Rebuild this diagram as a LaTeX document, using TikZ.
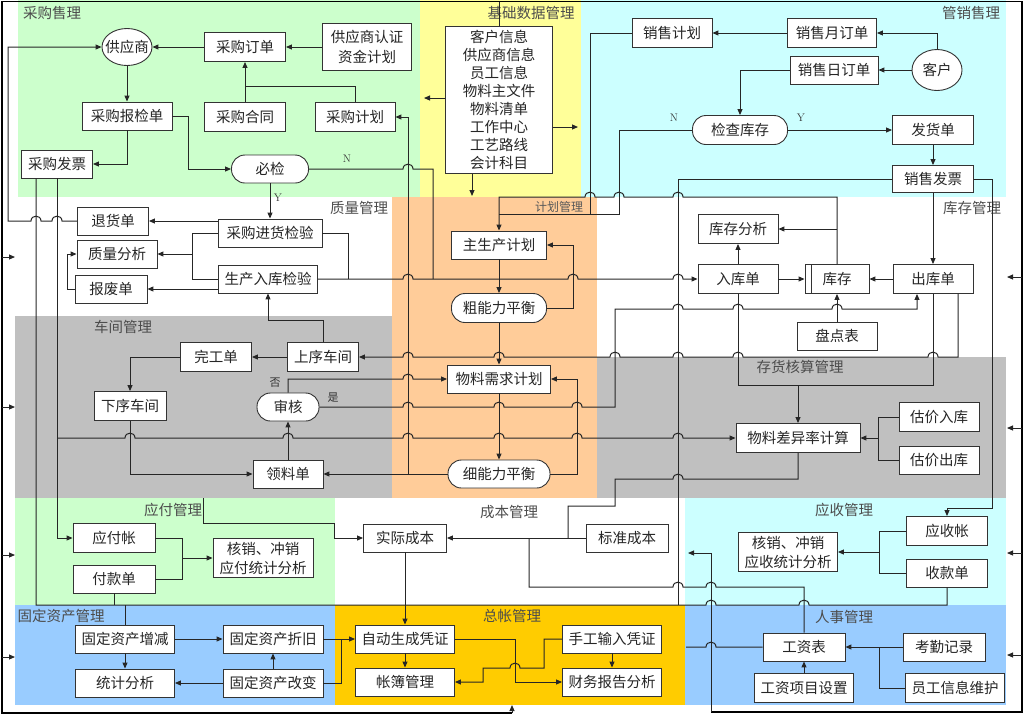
\documentclass[tikz,border=0pt]{standalone}
\usepackage{fontspec}
\newfontfamily\cjk{Noto Sans CJK SC}
\usetikzlibrary{arrows.meta,shapes.geometric}
\definecolor{cgreen}{RGB}{204,255,204}
\definecolor{cyellow}{RGB}{255,255,153}
\definecolor{ccyan}{RGB}{204,255,255}
\definecolor{corange}{RGB}{255,204,153}
\definecolor{cgray}{RGB}{192,192,192}
\definecolor{cblue}{RGB}{153,204,255}
\definecolor{cgold}{RGB}{255,204,0}
\begin{document}
\begin{tikzpicture}[x=1pt,y=-1pt,
  bx/.style={draw=black!80,line width=0.9pt,fill=white,inner sep=0pt,minimum height=28pt,
    font=\cjk\fontsize{14.5}{18}\selectfont,text=black!85,align=center},
  st/.style={bx,rounded corners=13.5pt},
  ov/.style={bx,ellipse},
  lab/.style={font=\cjk\fontsize{14.5}{17}\selectfont,text=black!70,inner sep=0pt},
  yn/.style={font=\fontsize{11}{12}\selectfont,text=black!80,inner sep=0pt},
  ynz/.style={font=\cjk\fontsize{11}{12}\selectfont,text=black!80,inner sep=0pt},
  cn/.style={line width=1pt,draw=black!85},
  arr/.style={cn,-{Triangle[length=6pt,width=5pt]}},
  jmp/.style={to path={.. controls +(0,-6.5) and +(0,-6.5) .. (\tikztotarget)}},
  frm/.style={line width=1.6pt,draw=black}]
\useasboundingbox (0,0) rectangle (1024,716);
% ---------------- regions
\fill[cgreen] (18,0) rectangle (420,197);
\fill[cyellow] (420,0) rectangle (581,197);
\fill[ccyan] (581,0) rectangle (1006,197);
\fill[corange] (392,197) rectangle (597,498);
\fill[cgray] (15,316) rectangle (392,498);
\fill[cgray] (597,357) rectangle (1006,498);
\fill[cgreen] (15,498) rectangle (335,605);
\fill[ccyan] (685,498) rectangle (1006,605);
\fill[cblue] (15,605) rectangle (335,705);
\fill[cgold] (335,605) rectangle (685,705);
\fill[cblue] (685,605) rectangle (1006,705);
% ---------------- region labels
\node[lab] (t1) at (52,13) {采购售理};
\node[lab] (t2) at (531,13) {基础数据管理};
\node[lab] (t3) at (971,13) {管销售理};
\node[lab] (t4) at (359,208) {质量管理};
\node[lab,font=\cjk\fontsize{12}{14}\selectfont,text=black!65] (t5) at (559,207) {计划管理};
\node[lab] (t6) at (972,208) {库存管理};
\node[lab] (t7) at (123,327) {车间管理};
\node[lab] (t8) at (800,367) {存货核算管理};
\node[lab] (t9) at (173,510) {应付管理};
\node[lab] (t10) at (509,512) {成本管理};
\node[lab] (t11) at (844,510) {应收管理};
\node[lab] (t12) at (61,616) {固定资产管理};
\node[lab] (t13) at (512,616) {总帐管理};
\node[lab] (t14) at (844,617) {人事管理};
% ---------------- nodes
\node[ov,minimum width=50pt,minimum height=37pt] (gys) at (127,47) {\makebox[0pt]{供应商}};
\node[bx,minimum width=81pt,minimum height=29pt] (cgdd) at (245,47) {采购订单};
\node[bx,minimum width=89pt,minimum height=47pt,font=\cjk\fontsize{14.5}{19.5}\selectfont] (gysrz) at (367,47) {供应商认证\\资金计划};
\node[bx,minimum width=90pt] (cgbjd) at (127,116) {采购报检单};
\node[bx,minimum width=81pt,minimum height=29pt] (cght) at (245,117) {采购合同};
\node[bx,minimum width=80pt,minimum height=29pt] (cgjh) at (355,117) {采购计划};
\node[bx,minimum width=71pt] (cgfp) at (57,164) {采购发票};
\node[st,minimum width=77pt] (bj) at (270,169) {必检};
\node[bx,minimum width=107pt,minimum height=147pt] (jcsj) at (499,100) {客户信息\\供应商信息\\员工信息\\物料主文件\\物料清单\\工作中心\\工艺路线\\会计科目};
\node[bx,minimum width=80pt,minimum height=29pt] (xsjh) at (672,33) {销售计划};
\node[bx,minimum width=89pt,minimum height=29pt] (xsydd) at (832,33) {销售月订单};
\node[bx,minimum width=88pt] (xsrdd) at (834,70) {销售日订单};
\node[ov,minimum width=50pt,minimum height=41pt] (kh) at (937,70) {\makebox[0pt]{客户}};
\node[st,minimum width=95pt,minimum height=29pt] (jckc) at (740,130) {检查库存};
\node[bx,minimum width=81pt,minimum height=29pt] (fhd) at (933,130) {发货单};
\node[bx,minimum width=81pt,minimum height=27pt] (xsfp) at (933,179) {销售发票};
\node[bx,minimum width=71pt] (thd) at (113,221) {退货单};
\node[bx,minimum width=104pt] (cgjhjy) at (270,233) {采购进货检验};
\node[bx,minimum width=80pt] (zlfx) at (117,254) {质量分析};
\node[bx,minimum width=99pt] (scrkjy) at (268,279) {生产入库检验};
\node[bx,minimum width=72pt] (bfd) at (111,289) {报废单};
\node[bx,minimum width=95pt] (zscjh) at (499,245) {主生产计划};
\node[st,minimum width=95pt,minimum height=29pt] (cnlph) at (499,308) {粗能力平衡};
\node[bx,minimum width=103pt] (wlxq) at (499,379) {物料需求计划};
\node[st,minimum width=102pt] (xnlph) at (499,474) {细能力平衡};
\node[bx,minimum width=80pt,minimum height=29pt] (kcfx) at (738,229) {库存分析};
\node[bx,minimum width=80pt,minimum height=29pt] (rkd) at (738,279) {入库单};
\node[bx,minimum width=64pt,minimum height=29pt] (kc) at (837,279) {库存};
\draw[black!80,line width=0.9pt] ([xshift=7pt]kc.north west) -- ([xshift=7pt]kc.south west);
\node[bx,minimum width=80pt,minimum height=29pt] (ckd) at (933,279) {出库单};
\node[bx,minimum width=80pt] (pdb) at (837,336) {盘点表};
\node[bx,minimum width=71pt,minimum height=29pt] (sxcj) at (323,357) {上序车间};
\node[bx,minimum width=71pt,minimum height=29pt] (wgd) at (216,357) {完工单};
\node[bx,minimum width=72pt,minimum height=29pt] (xxcj) at (130,406) {下序车间};
\node[st,minimum width=62pt] (sh) at (288,407) {审核};
\node[bx,minimum width=70pt] (lld) at (288,474) {领料单};
\node[bx,minimum width=124pt,minimum height=29pt] (wlcy) at (798,438) {物料差异率计算};
\node[bx,minimum width=80pt,minimum height=29pt] (gjrk) at (939,417) {估价入库};
\node[bx,minimum width=80pt] (gjck) at (939,460) {估价出库};
\node[bx,minimum width=82pt,minimum height=29pt] (yfz) at (114,538) {应付帐};
\node[bx,minimum width=82pt] (fkd) at (114,579) {付款单};
\node[bx,minimum width=100pt,minimum height=39pt,font=\cjk\fontsize{14.5}{19}\selectfont] (yfhx) at (263,558) {核销、冲销\\应付统计分析};
\node[bx,minimum width=83pt] (sjcb) at (405,538) {实际成本};
\node[bx,minimum width=82pt] (bzcb) at (627,538) {标准成本};
\node[bx,minimum width=81pt,minimum height=29pt] (yszz) at (947,531) {应收帐};
\node[bx,minimum width=81pt] (skd) at (947,573) {收款单};
\node[bx,minimum width=99pt,minimum height=39pt,font=\cjk\fontsize{14.5}{19}\selectfont] (yshx) at (788,552) {核销、冲销\\应收统计分析};
\node[bx,minimum width=99pt] (gdzj) at (125,639) {固定资产增减};
\node[bx,minimum width=99pt] (tjfx) at (125,683) {统计分析};
\node[bx,minimum width=100pt] (gdzjiu) at (273,639) {固定资产折旧};
\node[bx,minimum width=100pt] (gdgb) at (273,683) {固定资产改变};
\node[bx,minimum width=99pt] (zdpz) at (405,639) {自动生成凭证};
\node[bx,minimum width=99pt] (zbgl) at (405,682) {帐簿管理};
\node[bx,minimum width=99pt] (sgpz) at (612,639) {手工输入凭证};
\node[bx,minimum width=99pt] (cwbg) at (612,682) {财务报告分析};
\node[bx,minimum width=82pt] (gzb) at (804,647) {工资表};
\node[bx,minimum width=82pt] (kqjl) at (944,647) {考勤记录};
\node[bx,minimum width=99pt,minimum height=29pt] (gzxm) at (804,688) {工资项目设置};
\node[bx,minimum width=99pt,minimum height=29pt] (ygxx) at (955,688) {员工信息维护};
% small labels
\node[yn] (n1) at (347,159) {N};
\node[yn] (y1) at (278,198) {Y};
\node[yn] (n2) at (674,118) {N};
\node[yn] (y2) at (801,118) {Y};
\node[ynz] (fou) at (275,383) {否};
\node[ynz] (shi) at (333,398) {是};
% ---------------- frame
\coordinate (top1) at (499,1.5);
\coordinate (bot1) at (512,713);
\coordinate (bot1e) at (512,705);
\draw[frm] (bot1) -- (2,713) -- (2,1.5) -- (1022,1.5) -- (1022,712) -- (711,712);
\draw[arr] (bot1) -- (bot1e);
\foreach \yy [count=\i] in {257,407,555,657} {
  \coordinate (la\i) at (2,\yy); \coordinate (lb\i) at (15,\yy);
  \draw[arr] (la\i) -- (lb\i);}
\foreach \yy [count=\i] in {277,428,553,655} {
  \coordinate (ra\i) at (1022,\yy); \coordinate (rb\i) at (1007,\yy);
  \draw[arr] (ra\i) -- (rb\i);}
% ---------------- purchase
\draw[arr] (cgdd) -- (gys);
\draw[arr] (gysrz) -- (cgdd);
\draw[arr] (cght) -- (cgdd);
\draw[cn] (cgjh.north) |- (245,86);
\draw[arr] (gys) -- (cgbjd);
\draw[arr] (cgbjd.south) |- (cgfp.east);
\draw[arr] (cgbjd.east) -- (188,116) |- (bj.west);
\draw[arr] (bj) -- (cgjhjy);
\draw[cn] (bj.east) -- (403,169) to[jmp] (413,169) -- (433,169) -- (433,279);
% ---------------- basic data
\coordinate (ja) at (424,98);
\coordinate (jb) at (578,127);
\coordinate (jc) at (472,196);
\draw[cn] (jcsj.north) -- (top1);
\draw[arr] (jcsj.west |- ja) -- (ja);
\draw[arr] (jcsj.east |- jb) -- (jb);
\draw[arr] (jcsj.south -| jc) -- (jc);
% ---------------- sales
\draw[arr] (kh.north) |- (xsydd.east);
\draw[arr] (kh) -- (xsrdd);
\draw[arr] (xsydd) -- (xsjh);
\draw[arr] (xsrdd.west) -| (jckc.north);
\draw[arr] (jckc) -- (fhd);
\draw[arr] (fhd) -- (xsfp);
\draw[cn] (jckc.west) -| (619,214) -- (499,214);
\draw[cn] (xsjh.west) -| (590,214);
\draw[arr] (kc.north) -- (837,197) -- (683,197) to[jmp] (673,197) -- (624,197) to[jmp] (614,197) -- (595,197) to[jmp] (585,197) -- (499,197) -- (zscjh.north);
\draw[arr] (837,229) -- (kcfx.east);
\draw[arr] (xsfp) -- (ckd);
\draw[arr] (xsfp.east) -- (992,179) |- (947,508) -- (yszz.north);
\draw[cn] (xsfp.west) -- (678,179) -- (678,605);
% ---------------- quality
\draw[arr] (cgjhjy.west |- thd.east) -- (thd.east);
\draw[arr] (thd.west) -- (62,221) to[jmp] (52,221) -- (41,221) to[jmp] (31,221) -- (8,221) |- (gys.west);
\draw[cn] (cgjhjy.west) -- (192,233) |- (scrkjy.west);
\draw[arr] (192,254) -- (zlfx.east);
\draw[arr] (scrkjy.west |- bfd.east) -- (bfd.east);
\draw[arr] (bfd.west) -- (67,289) |- (zlfx.west);
\draw[cn] (cgjhjy.east) -| (348,279);
\draw[arr] (scrkjy.east) -- (403,279) to[jmp] (413,279) -- (568,279) to[jmp] (578,279) -- (673,279) to[jmp] (683,279) -- (rkd.west);
\draw[arr] (sxcj.north) |- (268,320) -- (scrkjy.south);
% ---------------- workshop
\draw[arr] (sxcj) -- (wgd);
\draw[arr] (wgd.west) -| (xxcj.north);
\draw[arr] (xxcj.south) |- (lld.west);
\draw[arr] (lld) -- (sh);
\draw[arr] (sh.north) -- (288,379) -- (403,379) to[jmp] (413,379) -- (wlxq.west);
\draw[arr] (sh.east) -- (403,407) to[jmp] (413,407) -- (494,407) to[jmp] (504,407) -- (572,407) to[jmp] (582,407) -- (615,407) -- (615,309) -- (673,309) to[jmp] (683,309) -- (733,309) to[jmp] (743,309) -- (832,309) to[jmp] (842,309) -- (917,309) -- ([xshift=-16pt]ckd.south);
\draw[arr] ([xshift=25pt]ckd.south) -- (958,357) -- (938,357) to[jmp] (928,357) -- (743,357) to[jmp] (733,357) -- (683,357) to[jmp] (673,357) -- (620,357) to[jmp] (610,357) -- (504,357) to[jmp] (494,357) -- (413,357) to[jmp] (403,357) -- (sxcj.east);
% ---------------- inventory
\draw[cn] (ckd.south) -- (933,385) -- (738,385) -- (rkd.south);
\draw[arr] (798,385) -- (wlcy.north);
\draw[arr] (rkd) -- (kcfx);
\draw[arr] (rkd) -- (kc);
\draw[arr] (ckd) -- (kc);
\draw[arr] (pdb) -- (kc);
\draw[cn] (gjrk.west) -- (878,417) |- (gjck.west);
\draw[arr] (878,438) -- (wlcy.east);
\draw[cn] (wlcy.south) -- (798,479) -- (683,479) to[jmp] (673,479) -- (615,479) -- (615,506) -- (568,506) -- (568,538);
\draw[arr] (bzcb) -- (sjcb);
% ---------------- planning
\draw[arr] (zscjh) -- (cnlph);
\draw[arr] (cnlph.east) -- (573,308) |- (zscjh.east);
\draw[arr] (cnlph) -- (wlxq);
\draw[arr] (wlxq) -- (xnlph);
\draw[arr] (xnlph.east) -- (577,474) |- (wlxq.east);
\draw[arr] (xnlph) -- (lld);
\draw[arr] (408,474) -- (408,117) -- (cgjh.east);
% ---------------- invoice lines
\draw[arr] (cgfp.south) -- (57,538) -- (yfz.west);
\draw[arr] (57,438) -- (125,438) to[jmp] (135,438) -- (283,438) to[jmp] (293,438) -- (403,438) to[jmp] (413,438) -- (494,438) to[jmp] (504,438) -- (572,438) to[jmp] (582,438) -- (673,438) to[jmp] (683,438) -- (wlcy.west);
\draw[cn] ([xshift=-21pt]cgfp.south) -- (36,605) -- (706,605) to[jmp] (716,605) -- (799,605) to[jmp] (809,605) -- (947,605) -- (skd.south);
\draw[cn] (fkd.south) -- (114,605);
\draw[cn] (125,605) -- (gdzj.north);
\draw[cn] (gzb.north) -- (804,587) -- (716,587) to[jmp] (706,587) -- (683,587) to[jmp] (673,587) -- (529,587) -- (529,538);
\coordinate (ca) at (688,553);
\draw[arr] (711,712) -- (711,553) -- (ca);
\coordinate (cb) at (686,647);
\draw[cn] (gzb.west) -- (716,647) to[jmp] (706,647) -- (cb);
% ---------------- payable / cost
\draw[cn] (yfz.east) -- (182,538) |- (fkd.east);
\draw[arr] (182,558) -- (yfhx.west);
\draw[arr] (203,498) -- (203,523) -- (334,523) -- (334,538) -- (sjcb.west);
\draw[arr] (sjcb) -- (zdpz);
% ---------------- fixed assets
\draw[arr] (gdzj) -- (gdzjiu);
\draw[arr] (gdzj) -- (tjfx);
\draw[arr] (gdgb) -- (gdzjiu);
\draw[arr] (gdgb) -- (tjfx);
\draw[arr] (gdzjiu) -- (zdpz);
\draw[cn] (gdgb.east) -- (341,683) -- (341,639);
% ---------------- general ledger
\draw[arr] (zdpz) -- (zbgl);
\draw[arr] (zdpz.east) -- (515,639) |- (cwbg.west);
\draw[arr] (sgpz.west) -- (544,639) -- (544,668) -- (520,668) to[jmp] (510,668) -- (483,668) |- (zbgl.east);
\draw[arr] (sgpz) -- (cwbg);
% ---------------- receivable
\draw[cn] (yszz.west) -- (879,531) |- (skd.west);
\draw[arr] (879,552) -- (yshx.east);
% ---------------- HR
\draw[arr] (kqjl) -- (gzb);
\draw[cn] (ygxx.west) -- (879,688) -- (879,647);
\draw[arr] (gzxm) -- (gzb);
\end{tikzpicture}
\end{document}
